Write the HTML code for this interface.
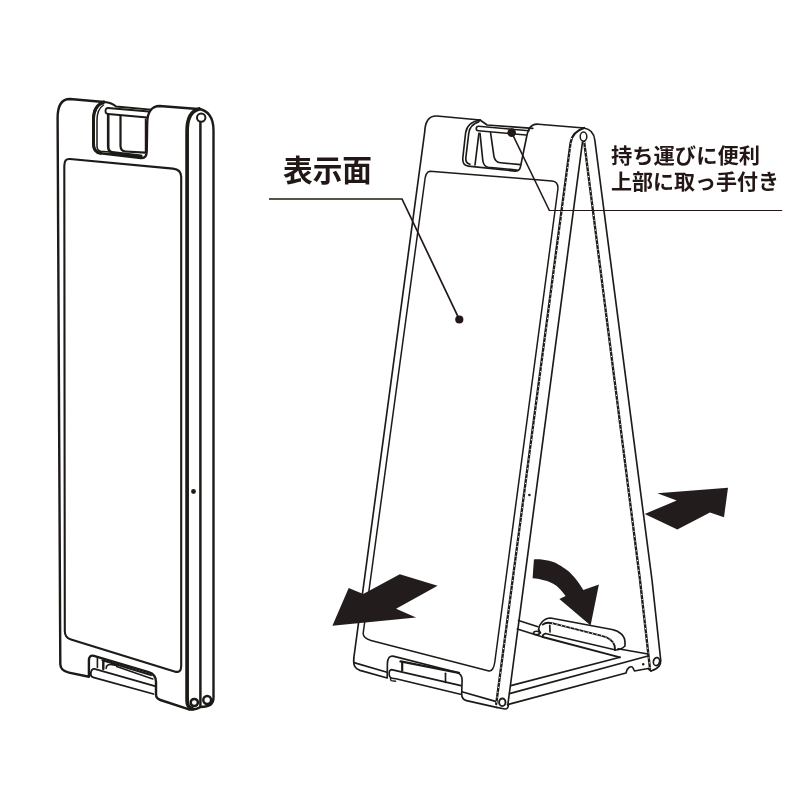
<!DOCTYPE html>
<html lang="ja">
<head>
<meta charset="utf-8">
<title>A型スタンド看板 図解</title>
<style>
html,body{margin:0;padding:0;background:#fff;}
body{width:810px;height:810px;overflow:hidden;font-family:"Liberation Sans",sans-serif;}
svg{display:block;}
</style>
</head>
<body>
<svg width="810" height="810" viewBox="0 0 810 810">
<defs><filter id="soft" x="-2%" y="-2%" width="104%" height="104%"><feGaussianBlur stdDeviation="0.35"/></filter></defs>
<rect width="810" height="810" fill="#ffffff"/>
<g filter="url(#soft)">

<!-- ================= LEFT FIGURE : folded ================= -->
<g id="left" fill="none" stroke="#1d1a19" stroke-width="2.4" stroke-linecap="round" stroke-linejoin="round">
  <!-- outer outline of the front face -->
  <path d="M60.3,664 L57.6,118 C57.6,106 61,99 70,99 L104,102
           C97,104.5 93.5,110 93.5,119 L93.5,144 C93.5,149.5 96,152.6 100.5,153.2
           L141,158 C145,158.4 146.7,156 146.7,151.5 L147.2,122 C147.6,112 152,106 159.5,106
           L198,109 C208,109.6 213.5,118 213.5,130 L213.5,698
           C213.5,705 208,707 200.5,707 C196,710 190,710 187.5,708.8
           L160.4,700 C157.1,699 156,697.6 156,694.6 L156,682 C156,677 153.4,673.5 148.6,672.1
           L93.9,655.8 C90.5,654.9 88.9,657 88.9,660.6 L88.9,676.7 L69,672.6 C63,671.3 60.3,668.5 60.3,664 Z"/>
  <path d="M104,102 C97,104.5 93.5,110 93.5,119 L93.5,144 C93.5,149.5 96,152.6 100.5,153.2" stroke-width="3"/>
  <!-- back top edge seen through recess + bar -->
  <path d="M104,102 C110,102.6 113,103.5 116,106.5 L151,109.6" stroke-width="1.8"/>
  <path d="M149,111.5 L108,108 C104.6,107.8 104.6,113.8 108,114 L147.5,117.5" stroke-width="1.8"/>
  <!-- inner recess lines -->
  <path d="M103.5,105 C99,108 97,113 97,120 L97,146 C97,149 98.5,151 101,151.3 L112,152.3" stroke-width="1.5"/>
  <path d="M108.2,115 L108.2,147 C108.4,150.5 109.5,151.8 112,152.2" stroke-width="2.6"/>
  <path d="M120.5,116 L120.5,146 C120.7,150 122.5,151.3 125.5,151.5 L145,152.6" stroke-width="2.2"/>
  <path d="M145.5,119 L145.5,152" stroke-width="1.4"/>
  <path d="M112,152.6 L141,156" stroke-width="3.2"/>
  <!-- display panel -->
  <path d="M64.3,166 C64.3,161 66,158.6 70,159 L173,168.6 C178.5,169.2 181.2,172 181.2,177 L181.2,666
           C181.2,671 179,672.8 174.5,671.4 L71,639.6 C66.5,638.2 64.8,636 64.8,631 Z" stroke-width="2.1"/>
  <!-- side face -->
  <path d="M192,708.5 C188.6,707.5 187.1,705 187.1,701 L187.1,131 C187.1,119 191,111 199,109" stroke-width="3.7"/>
  <path d="M200.4,123 L200.4,706" stroke-width="2.5"/>
  <circle cx="201.2" cy="117.6" r="4.2" stroke-width="2"/>
  <circle cx="194.3" cy="702.5" r="3.6" stroke-width="2.5"/>
  <circle cx="207.2" cy="700" r="3.9" stroke-width="2.5"/>
  <circle cx="193.5" cy="491.5" r="2.4" fill="#1d1a19" stroke="none"/>
  <!-- bottom handle in notch -->
  <path d="M102.5,660.3 L151,675" stroke-width="2.2"/>
  <path d="M116.7,666.6 L152.8,679" stroke-width="1.6"/>
  <path d="M103.3,661 L103.3,669" stroke-width="2.4"/>
  <path d="M97.4,657.6 L97.4,667.4" stroke-width="1.6"/>
  <path d="M106.2,668.4 C106,665.4 108,664.3 112,664.6 L116.5,665.4" stroke-width="1.6"/>
  <path d="M155,686.2 L94.4,668.9 C90.4,668.3 89.4,676.4 93.2,677.3 L153.5,694" stroke-width="1.8"/>
</g>

<!-- ================= RIGHT FIGURE : opened ================= -->
<g id="right" fill="none" stroke="#1d1a19" stroke-width="1.65" stroke-linecap="round" stroke-linejoin="round">
  <!-- front face outline -->
  <path d="M480,120 L437,116 C429,115.6 425.2,121 424.7,132 L353.8,658"/>
  <!-- front bottom upper & lower lines -->
  <path d="M354,662.6 L387,672.2"/>
  <path d="M353.8,658 C353.2,665.5 354.8,668.8 360,670.4 L387.2,678 L387.4,663.5 C387.6,658 389.5,655.4 394,656.4
           L456.5,672.3 C460.5,673.4 462.1,675.6 462.1,680 L461.7,694 C461.7,698 463,699.8 466.5,700.6 L496.5,707.4"/>
  <path d="M461.8,691.8 L496.4,701.6"/>
  <path d="M496.5,707.4 L505,709 C507.5,709 508.3,707.5 508.4,705"/>
  <!-- top edge right part + apex -->
  <path d="M528.9,129.4 C530.4,126 533.5,124 538.5,124.2 L584,128"/>
  <path d="M584,128 C590.5,129 594,133.5 594.8,140 L652,580 L660.6,659 C661.4,665 659,668 651,671"/>
  <!-- recess in front face -->
  <path d="M480,120 C471,121.5 466.5,126.5 465.6,133 L462.8,158 C462.4,163 464,165.6 468.3,166.1 L515,171.1 C518.5,171.4 520,169.6 520.6,166.1 L527.2,134 L528.9,128.9"/>
  <path d="M479,121.6 C473,123.5 469.6,127.5 468.8,133 L465.8,158 C465.6,161.5 467,163.6 470,164.2"/>
  <path d="M480,120 L487.2,125 L532.8,128.4"/>
  <path d="M529,130.8 L478.5,126.3 C475.6,126.2 475.4,130.6 478.4,130.8 L526,135"/>
  <path d="M478.9,133.3 L475,165"/>
  <path d="M480,133.3 L482.8,160.5 C483.4,165 485.5,166.8 488.3,167.2 L517,170"/>
  <path d="M490.6,132.8 L493.9,156.1 C494.6,160.8 497,162.4 500.6,162.8 L520.6,164.6"/>
  <!-- display panel of front face -->
  <path d="M424.6,182 C425.2,174.5 426.6,171.4 430,171.2 L552,181 C556.5,181.4 558.3,183.6 557.9,189
           L494.8,662 C494,668 492,671.8 488,670.8 L371,640.4 C365.8,639 362.8,637 363.2,633 Z" stroke-width="1.5"/>
  <!-- right edge of front face (hatched) L2 and L3 -->
  <path d="M584,128 C576,130.5 571.5,136 570.5,143 L496.2,704" stroke-width="2.3"/>
  <path d="M571.6,138 L496.2,704" stroke="#fff" stroke-width="1.1" stroke-dasharray="1.1 3.8" stroke-linecap="butt"/>
  <path d="M582.5,142 L507.8,705"/>
  <!-- back panel inner edge L4 (hatched) -->
  <path d="M584.2,142 L640,580 L650,669" stroke-width="2.3"/>
  <path d="M584.2,142 L640,580 L650,669" stroke="#fff" stroke-width="1.1" stroke-dasharray="1.1 3.8" stroke-linecap="butt"/>
  <ellipse cx="583.5" cy="136.6" rx="3.3" ry="4.6" stroke-width="1.5"/>
  <ellipse cx="502.3" cy="702.3" rx="3.2" ry="3.8" stroke-width="1.9"/>
  <ellipse cx="656.5" cy="661.6" rx="3.1" ry="4" transform="rotate(12 656.5 661.6)" stroke-width="1.7"/>
  <circle cx="529.4" cy="495" r="1.3" fill="#1d1a19" stroke="none"/>
  <!-- base frame -->
  <path d="M518.5,620.5 L538,626.8 M618,648.8 L648,654"/>
  <path d="M517.3,629 L542.7,637"/><path d="M542.7,637 L620,657.3" stroke-width="1.9"/><path d="M620,657.3 L510.8,685.6"/>
  <path d="M509.5,693.6 L648,656"/>
  <path d="M507.5,704.6 L626,673 C627,667.5 631.5,665 633,668 L634.5,671 L648,668.5 L651,671"/>
  <circle cx="643.2" cy="664.2" r="1.2" fill="#1d1a19" stroke="none"/>
  <!-- front bottom handle -->
  <path d="M400.5,661.4 L459,672.8" stroke-width="2.3"/>
  <path d="M402.2,662.5 L402.2,670.6" stroke-width="2.2"/>
  <path d="M445.5,673.2 L445.5,682.4"/>
  <path d="M461,685.6 L391.5,669.6 C388.3,670 388.3,677.6 392,678.2 L396,678.8 L460.4,694.2"/>
  <path d="M390.4,678.6 L391,680.6 L395.6,681.2" stroke-width="1.4"/>
  <!-- foot handle on base -->
  <path d="M538.6,629.5 C539,624 544,618.2 550.5,618 L612,629.5 C620,631 625,636 625,642.5 L625,646 C622.5,648.6 619,650 615,650"/>
  <path d="M542.7,624.6 C545,622.6 548,622.4 552,623.2 L601,635.6 C609,637.5 613.5,641 614.7,646 L615,650" stroke-width="1.9"/>
  <path d="M552,623.2 L601,635.6 C609,637.5 613.5,641 614.7,646" stroke="#fff" stroke-width="1" stroke-dasharray="1 3.6" stroke-linecap="butt"/>
  <path d="M545.4,633.5 L614.7,649.8"/>
  <path d="M549.8,625.4 L550,632"/>
  <path d="M538.6,629.5 L540.5,633 M545.4,633.5 C543.5,634 542.5,635.4 542.7,637"/>
  <ellipse cx="536.5" cy="632.9" rx="3" ry="1.7"/>
</g>

<!-- ================= ARROWS ================= -->
<g fill="#221e1f" stroke="none">
  <polygon points="332.4,625.7 348.7,588 363.2,593.9 399.8,574.2 437.6,585.7 396.1,608.7 416.1,617.6"/>
  <polygon points="644.7,514 676.7,500.4 657.3,493.3 728,487.7 724,517.3 710,512.4 677.3,529.6"/>
  <path d="M533.9,559.4 C545,559 553,561.5 558.3,564.4 C566,568.5 571,573 573.9,576.7 C578,581.5 581,586 583.3,590
           L598.9,584.4 L590.6,625.6 L559.4,598.9 L565.6,596.1 C562,591.5 559.5,588.5 556.1,585.6
           C552,583 549,581.6 545,580.6 C541,579.4 537,578.6 532.6,578.3 Z"/>
</g>

<!-- ================= LEADERS ================= -->
<g fill="none" stroke="#231815" stroke-linecap="butt" stroke-linejoin="miter">
  <path d="M269,199 L402,199 L459.3,319.3" stroke-width="1.7"/>
  <path d="M511.7,132.6 L549.4,210.5" stroke-width="1.55"/><path d="M548.8,210.5 L782.2,210.5" stroke-width="1"/>
</g>
<circle cx="459.3" cy="319.5" r="4.1" fill="#231815"/>
<circle cx="511.7" cy="132.6" r="4.3" fill="#231815"/>

<!-- ================= TEXT ================= -->
<g fill="#231815" stroke="none" font-family='"Liberation Sans","Noto Sans CJK JP",sans-serif' font-weight="bold">
  <text x="283" y="181" font-size="30" textLength="89" lengthAdjust="spacingAndGlyphs">表示面</text>
  <text x="611" y="162.5" font-size="21" textLength="149" lengthAdjust="spacingAndGlyphs">持ち運びに便利</text>
  <text x="611" y="188.5" font-size="21" textLength="168" lengthAdjust="spacingAndGlyphs">上部に取っ手付き</text>
</g>
</g>
</svg>
</body>
</html>
